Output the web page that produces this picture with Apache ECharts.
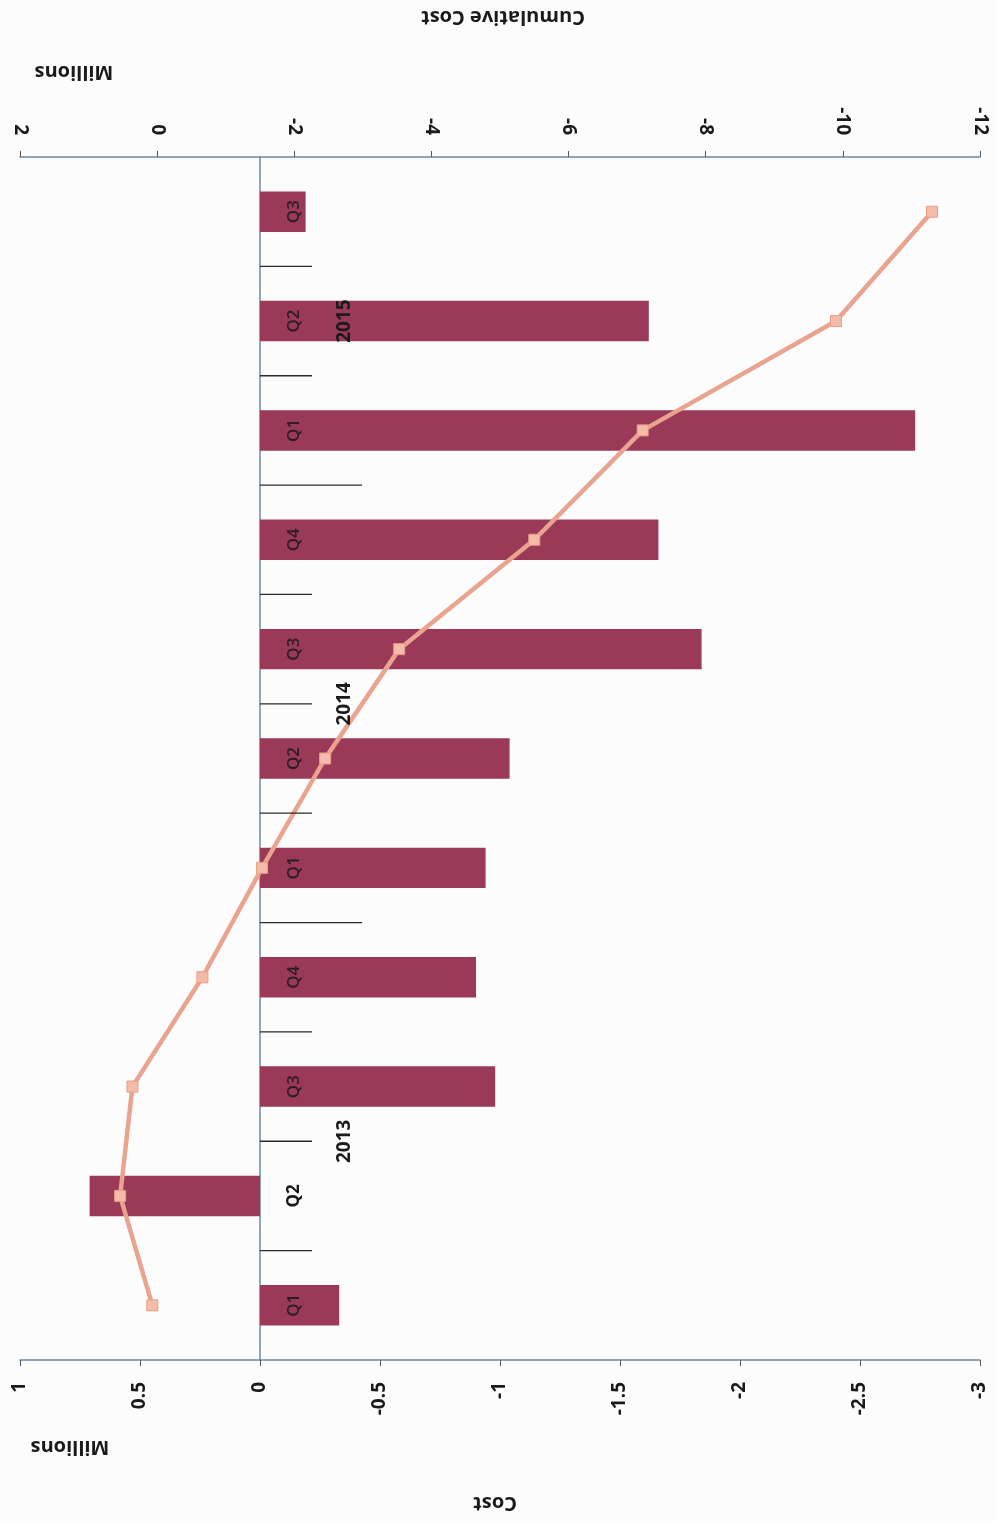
<!DOCTYPE html>
<html>
<head>
<meta charset="utf-8">
<script src="https://cdn.jsdelivr.net/npm/echarts@6/dist/echarts.min.js"></script>
<style>
html,body{margin:0;padding:0;background:#fcfcfc;}
#chart{width:996px;height:1521px;}
</style>
</head>
<body>
<div id="chart"></div>
<script>
// Data (in millions)
const quarters = ['Q1','Q2','Q3','Q4','Q1','Q2','Q3','Q4','Q1','Q2','Q3'];
const years = ['2013','2013','2013','2013','2014','2014','2014','2014','2015','2015','2015'];
const cost = [-0.33, 0.71, -0.98, -0.90, -0.94, -1.04, -1.84, -1.66, -2.73, -1.62, -0.19];
const cumulativeCost = [0.07, 0.54, 0.36, -0.66, -1.53, -2.45, -3.53, -5.50, -7.08, -9.90, -11.30];
const yearGroups = ['2013','2014','2015'];

const categories = quarters.map((q, i) => q + ' ' + years[i]);

const chart = echarts.init(document.getElementById('chart'));
const fontFam = '"Open Sans", "Liberation Sans", sans-serif';
const axisColor = '#6b88a6';

const option = {
  backgroundColor: '#fcfcfc',
  animation: false,
  grid: { left: 20, right: 16, top: 157, bottom: 161, containLabel: false },
  xAxis: [
    {
      type: 'value', position: 'bottom', inverse: true,
      min: -3, max: 1, interval: 0.5,
      axisLine: { show: true, onZero: false, lineStyle: { color: axisColor, width: 1.5 } },
      axisTick: { show: true, length: 6, lineStyle: { color: '#555' } },
      splitLine: { show: false },
      axisLabel: { rotate: 90, margin: 22, fontSize: 19, fontWeight: 'bold', color: '#1a1a1a', fontFamily: fontFam }
    },
    {
      type: 'value', position: 'top', inverse: true,
      min: -12, max: 2, interval: 2,
      axisLine: { show: true, onZero: false, lineStyle: { color: axisColor, width: 1.5 } },
      axisTick: { show: true, length: 6, lineStyle: { color: '#555' } },
      splitLine: { show: false },
      axisLabel: { rotate: 90, margin: 22, fontSize: 19, fontWeight: 'bold', color: '#1a1a1a', fontFamily: fontFam }
    }
  ],
  yAxis: [
    {
      type: 'category', data: categories,
      axisLine: { show: true, onZero: true, onZeroAxisIndex: 0, lineStyle: { color: axisColor, width: 1.5 } },
      axisTick: { show: false },
      axisLabel: { show: false }
    }
  ],
  series: [
    {
      name: 'Cost', type: 'bar', xAxisIndex: 0, yAxisIndex: 0,
      data: cost, barWidth: '37%',
      itemStyle: { color: '#9a3a58' }
    },
    {
      name: 'Cumulative Cost', type: 'line', xAxisIndex: 1, yAxisIndex: 0,
      data: cumulativeCost,
      lineStyle: { color: '#e9a38f', width: 4.5 },
      symbol: 'rect', symbolSize: 11,
      itemStyle: { color: '#f3bba8', borderColor: '#e99c87', borderWidth: 1 },
      z: 5
    }
  ]
};
chart.setOption(option);

// Category labels, group separators and year labels positioned through the library's scales
const graphics = [];
const x0 = chart.convertToPixel({ xAxisIndex: 0 }, 0);
const yOf = i => chart.convertToPixel({ yAxisIndex: 0 }, i);
for (let i = 1; i < categories.length; i++) {
  const y = (yOf(i) + yOf(i - 1)) / 2;
  const long = years[i] !== years[i - 1];
  graphics.push({ type: 'line', shape: { x1: x0, y1: y, x2: x0 + (long ? 102 : 52), y2: y }, style: { stroke: '#2a2a2a', lineWidth: 1.3 }, z: 10 });
}
categories.forEach((c, i) => {
  graphics.push({
    type: 'text', x: x0 + 34, y: yOf(i), rotation: Math.PI / 2, z: 20,
    style: { text: quarters[i], fontSize: 17, fontWeight: cost[i] > 0 ? 'bold' : 600, fill: cost[i] > 0 ? '#1a1a1a' : '#2b1d22', fontFamily: fontFam, align: 'center', verticalAlign: 'middle' }
  });
});
yearGroups.forEach(yr => {
  const idx = years.map((y, i) => y === yr ? i : -1).filter(i => i >= 0);
  const first = idx[0], last = idx[idx.length - 1];
  const yc = (yOf(first) + yOf(last)) / 2;
  graphics.push({
    type: 'text', x: x0 + 85, y: yc, rotation: Math.PI / 2, z: 20,
    style: { text: yr, fontSize: 19, fontWeight: 'bold', fill: '#1a1a1a', fontFamily: fontFam, align: 'center', verticalAlign: 'middle' }
  });
});
// Axis titles (upside down, as in the scanned original)
const titles = [
  { text: 'Cost', x: 495, y: 1503 },
  { text: 'Millions', x: 70, y: 1447 },
  { text: 'Cumulative Cost', x: 503, y: 17 },
  { text: 'Millions', x: 74, y: 72 }
];
titles.forEach(t => graphics.push({
  type: 'text', x: t.x, y: t.y, rotation: Math.PI, z: 20,
  style: { text: t.text, fontSize: 20, fontWeight: 'bold', fill: '#1a1a1a', fontFamily: fontFam, align: 'center', verticalAlign: 'middle' }
}));
chart.setOption({ graphic: graphics });
</script>
</body>
</html>
